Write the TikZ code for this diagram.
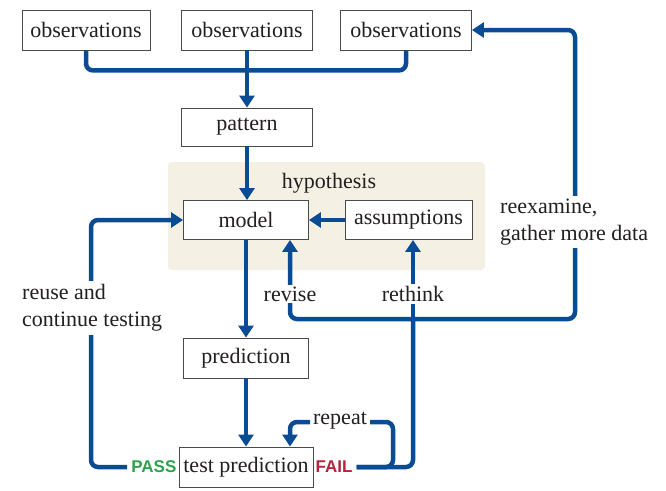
\documentclass[tikz,border=0pt]{standalone}
\usepackage{fontspec}
\setmainfont{Liberation Serif}
\newfontfamily\labelsans{Liberation Sans}
\usetikzlibrary{arrows.meta,calc}
\definecolor{flowblue}{HTML}{0A4C94}
\definecolor{hypbg}{HTML}{F4F1E4}
\definecolor{passgreen}{HTML}{2BA24C}
\definecolor{failred}{HTML}{B3243F}
\definecolor{ink}{HTML}{231F20}
\definecolor{boxline}{HTML}{4A4A4A}
\begin{document}
\begin{tikzpicture}[x=1pt,y=-1pt,
  box/.style={draw=boxline, line width=0.9pt, fill=white, text=ink, font=\fontsize{22}{26}\selectfont, minimum height=40pt, inner sep=0pt},
  lbl/.style={text=ink, font=\fontsize{22}{27}\selectfont, fill=white, inner sep=3pt},
  verdict/.style={font=\labelsans\bfseries\fontsize{17}{20}\selectfont, inner sep=2pt},
  conn/.style={draw=flowblue, line width=4.5pt, rounded corners=7pt},
  arr/.style={conn, -{Triangle[length=12pt,width=15pt]}},
  hypzone/.style={fill=hypbg, rounded corners=4pt, inner sep=0pt}
]
\useasboundingbox (0,0) rectangle (666,490);
% background zone
\node[hypzone, minimum width=317pt, minimum height=108pt] (hyp) at (326.5,216) {};
\node[text=ink, font=\fontsize{22}{26}\selectfont, inner sep=0pt] (hyptitle) at (329,183) {hypothesis};
% boxes
\node[box, minimum width=128pt] (o1) at (86,30) {observations};
\node[box, minimum width=131pt] (o2) at (247,30) {observations};
\node[box, minimum width=131pt] (o3) at (406,30) {observations};
\node[box, minimum width=131pt, minimum height=38pt] (pattern) at (247,127) {pattern};
\node[box, minimum width=125pt, minimum height=39pt] (model) at (246,220) {model};
\node[box, minimum width=127pt, minimum height=39pt] (assum) at (408.5,220) {assumptions};
\node[box, minimum width=125pt] (pred) at (246,358) {prediction};
\node[box, minimum width=134pt] (test) at (246,467) {test prediction};
\node[verdict, text=passgreen, anchor=east] (pass) at (test.west) {PASS};
\node[verdict, text=failred, anchor=west] (fail) at (test.east) {FAIL};
\coordinate (J) at (413,319);
% connectors
\draw[conn] (o1.south) -- ++(0,20) -| (o3.south);
\draw[arr] (o2.south) -- (pattern.north);
\draw[arr] (pattern.south) -- (pattern.south |- model.north);
\draw[arr] (assum.west) -- (model.east);
\draw[arr] (model.south) -- (pred.north);
\draw[arr] (pred.south) -- (test.north);
\draw[arr] ([xshift=-2pt]pass.west) -| (91,220) -- (model.west);
\draw[conn] ([xshift=2pt]fail.east) -| (J);
\draw[conn] ([xshift=2pt]fail.east) -| (393,422) -- (370,422);
\draw[arr] (310,422) -| ([xshift=44pt]test.north);
\draw[arr] (J) -- (J |- assum.south);
\draw[arr] (J) -| ([xshift=44pt]model.south);
\draw[arr] (J) -| (575,30) -- (o3.east);
% labels over connectors
\node[lbl, inner sep=1pt] (repeat) at (340,421) {repeat};
\node[lbl, inner sep=2pt] (revise) at (290,294) {revise};
\node[lbl, inner sep=2pt] (rethink) at (413,294) {rethink};
\node[lbl, align=left, anchor=west] (reex) at (497,222) {reexamine,\\gather more data};
\node[lbl, align=left, anchor=west] (reuse) at (19,308) {reuse and\\continue testing};
\end{tikzpicture}
\end{document}
